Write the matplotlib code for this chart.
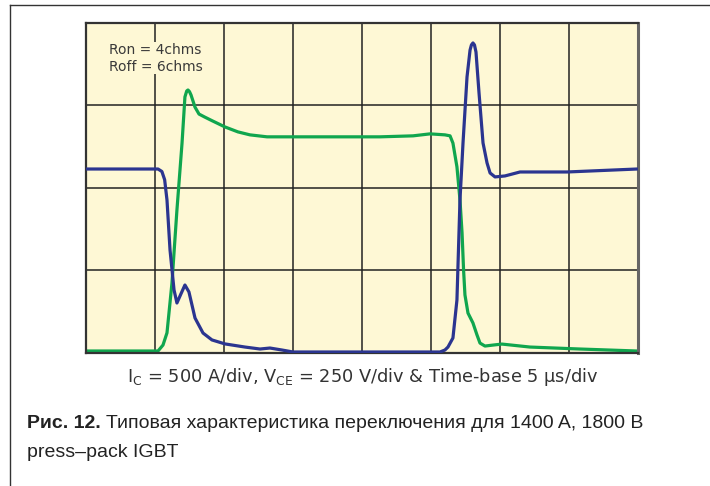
import matplotlib.pyplot as plt
from matplotlib.lines import Line2D

# time base 5 us/div, Ic 500 A/div, Vce 250 V/div
ic_time_us = [0.0, 5.22, 5.50, 5.70, 5.87, 6.09, 6.38, 6.59, 6.88, 7.17, 7.46, 7.90, 8.48,
              9.13, 10.07, 11.52, 12.61, 13.33, 14.20, 15.00, 25.65, 26.01, 26.23, 26.59,
              26.88, 27.10, 27.32, 27.61, 27.83, 27.93, 28.04, 28.15, 28.26, 28.48, 28.77,
              29.06, 29.28, 29.64, 30.36, 31.45, 34.86, 39.93]
ic_amps = [1115, 1115, 1100, 1050, 927, 624, 382, 303, 358, 412, 370, 212, 121,
           79, 55, 36, 24, 30, 18, 6, 6, 18, 36, 91,
           321, 927, 1273, 1673, 1836, 1867, 1879, 1867, 1824, 1576, 1273,
           1152, 1091, 1067, 1073, 1097, 1097, 1115]

vce_time_us = [0.0, 5.22, 5.58, 5.87, 6.23, 6.59, 6.96, 7.17, 7.30, 7.39, 7.50, 7.61, 7.90,
               8.19, 8.60, 9.13, 10.07, 11.01, 11.88, 13.12, 21.30, 23.70, 24.93, 26.01,
               26.38, 26.59, 26.88, 27.10, 27.25, 27.36, 27.46, 27.68, 28.04, 28.33,
               28.55, 28.91, 29.50, 30.14, 32.17, 35.80, 39.93]
vce_volts = [6, 6, 24, 61, 212, 433, 636, 776, 794, 797, 792, 782, 745,
             724, 715, 704, 685, 670, 661, 655, 655, 658, 664, 661,
             658, 636, 564, 464, 364, 252, 176, 121, 91, 55,
             30, 21, 24, 27, 18, 12, 6]

amps_per_div = 500
volts_per_div = 250
us_per_div = 5

fig = plt.figure(figsize=(7.1, 4.86), dpi=100)
ax = fig.add_axes([0.1211, 0.2737, 0.7775, 0.679])
bg = '#fef8d5'
ax.set_facecolor(bg)

ax.plot(ic_time_us, [a / amps_per_div for a in ic_amps], color='#2b3590', lw=2.3,
        solid_joinstyle='round', solid_capstyle='round', zorder=3)
ax.plot(vce_time_us, [v / volts_per_div for v in vce_volts], color='#10a64e', lw=2.3,
        solid_joinstyle='round', solid_capstyle='round', zorder=2)

ax.set_xlim(0, 8 * us_per_div)
ax.set_ylim(0, 4)
for i in range(1, 8):
    ax.axvline(i * us_per_div, color='#222222', lw=1.1, zorder=1)
for j in range(1, 4):
    ax.axhline(j, color='#222222', lw=1.1, zorder=1)
ax.set_xticks([])
ax.set_yticks([])
for side in ['top', 'left', 'bottom']:
    ax.spines[side].set_color('#333333')
    ax.spines[side].set_linewidth(1.6)
ax.spines['right'].set_color('#666666')
ax.spines['right'].set_linewidth(2.2)

ax.text(0.042, 0.94, 'Ron = 4chms\nRoff = 6chms', transform=ax.transAxes,
        fontsize=10, color='#3a3a3a', va='top', ha='left', linespacing=1.25, zorder=4,
        bbox=dict(facecolor=bg, edgecolor='none', pad=0.5))

fig.text(0.511, 0.225, r'I$_\mathregular{C}$ = 500 A/div, V$_\mathregular{CE}$ = 250 V/div & Time-base 5 µs/div',
         ha='center', va='center', fontsize=12.8, color='#333333')

cap_font = ['Liberation Sans', 'DejaVu Sans']
t1 = fig.text(0.038, 0.129, 'Рис. 12.', fontsize=14, fontweight='bold', family=cap_font,
              color='#222222', va='center')
fig.canvas.draw()
bb = t1.get_window_extent()
x2 = bb.x1 / fig.bbox.width + 0.008
fig.text(x2, 0.129, 'Типовая характеристика переключения для 1400 A, 1800 B',
         fontsize=14, family=cap_font, color='#222222', va='center')
fig.text(0.038, 0.069, 'press–pack IGBT', fontsize=14, family=cap_font,
         color='#222222', va='center')

# outer frame (top and left edges)
fig.add_artist(Line2D([0.014, 0.014], [0.0, 0.99], transform=fig.transFigure,
                      color='#333333', lw=1.0))
fig.add_artist(Line2D([0.014, 1.0], [0.99, 0.99], transform=fig.transFigure,
                      color='#333333', lw=1.0))

fig.savefig('out.png', dpi=100)
